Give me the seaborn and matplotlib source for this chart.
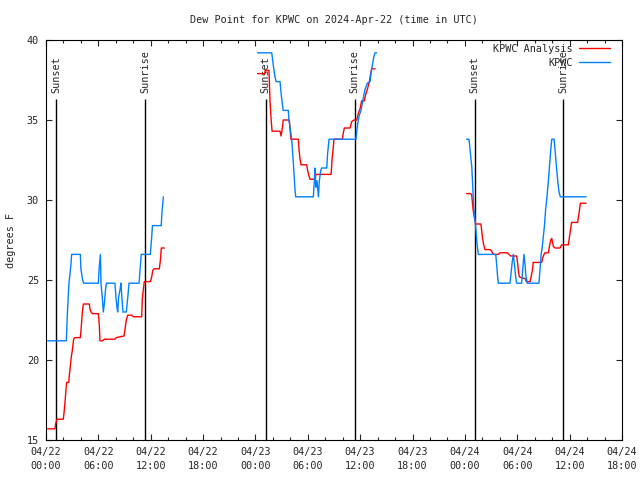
import matplotlib
matplotlib.use('Agg')
import matplotlib.pyplot as plt
from matplotlib.lines import Line2D
import seaborn as sns
import pandas as pd

# KPWC observed dew point (F), three separate data segments
kpwc_t = [
    # 04/22
    ["22 00:11", "22 02:20", "22 02:27", "22 02:34", "22 02:38", "22 02:52", "22 02:56",
     "22 03:56", "22 04:00", "22 04:12", "22 04:19", "22 06:00", "22 06:05", "22 06:14",
     "22 06:18", "22 06:27", "22 06:34", "22 06:41", "22 06:48", "22 06:55", "22 07:54",
     "22 08:01", "22 08:08", "22 08:13", "22 08:19", "22 08:29", "22 08:35", "22 08:42",
     "22 08:49", "22 09:12", "22 09:22", "22 09:31", "22 10:40", "22 10:47", "22 10:55",
     "22 11:57", "22 12:06", "22 12:12", "22 13:12", "22 13:18", "22 13:27"],
    # 04/23
    ["23 00:15", "23 01:52", "23 02:03", "23 02:14", "23 02:22", "23 02:49", "23 02:56",
     "23 03:05", "23 03:11", "23 03:46", "23 03:50", "23 04:00", "23 04:09", "23 04:16",
     "23 04:25", "23 04:32", "23 04:37", "23 06:38", "23 06:45", "23 06:49", "23 06:56",
     "23 07:03", "23 07:13", "23 07:19", "23 07:28", "23 07:35", "23 08:10", "23 08:16",
     "23 08:26", "23 08:35", "23 11:31", "23 11:38", "23 11:45", "23 11:54", "23 12:06",
     "23 12:22", "23 12:33", "23 12:49", "23 13:08", "23 13:14", "23 13:23", "23 13:33",
     "23 13:42", "23 13:53"],
    # 04/24
    ["24 00:12", "24 00:28", "24 00:37", "24 00:47", "24 00:53", "24 01:00", "24 01:09",
     "24 01:16", "24 01:23", "24 01:32", "24 03:32", "24 03:38", "24 03:45", "24 03:50",
     "24 05:10", "24 05:17", "24 05:26", "24 05:33", "24 05:40", "24 05:49", "24 05:56",
     "24 06:30", "24 06:37", "24 06:46", "24 06:53", "24 07:00", "24 07:09", "24 08:29",
     "24 08:36", "24 08:43", "24 08:52", "24 08:59", "24 09:06", "24 09:15", "24 09:24",
     "24 09:34", "24 09:43", "24 09:50", "24 09:57", "24 10:13", "24 10:20", "24 10:29",
     "24 10:38", "24 10:47", "24 10:56", "24 13:53"],
]
kpwc_v = [
    [21.2, 21.2, 22.9, 24.2, 24.8, 26.0, 26.6,
     26.6, 25.7, 25.0, 24.8, 24.8, 25.7, 26.6,
     24.8, 23.9, 23.0, 23.5, 24.3, 24.8, 24.8,
     23.9, 23.3, 23.0, 23.9, 24.4, 24.8, 23.9,
     23.0, 23.0, 23.9, 24.8, 24.8, 25.7, 26.6,
     26.6, 27.6, 28.4, 28.4, 29.3, 30.2],
    [39.2, 39.2, 38.4, 37.7, 37.4, 37.4, 36.7,
     36.0, 35.6, 35.6, 35.0, 34.4, 33.8, 32.9,
     31.7, 30.6, 30.2, 30.2, 31.2, 32.0, 30.8,
     31.2, 30.2, 31.2, 31.8, 32.0, 32.0, 32.9,
     33.8, 33.8, 33.8, 34.4, 34.9, 35.3, 35.6,
     36.4, 36.9, 37.3, 37.4, 37.9, 38.4, 38.9,
     39.2, 39.2],
    [33.8, 33.8, 33.0, 32.1, 31.0, 29.6, 28.8,
     28.1, 27.3, 26.6, 26.6, 26.0, 25.2, 24.8,
     24.8, 25.4, 26.2, 26.6, 26.0, 25.2, 24.8,
     24.8, 25.6, 26.6, 26.0, 25.2, 24.8, 24.8,
     25.6, 26.5, 27.1, 27.7, 28.3, 29.4, 30.2,
     31.2, 32.3, 33.1, 33.8, 33.8, 33.1, 32.1,
     31.2, 30.5, 30.2, 30.2],
]

# KPWC Analysis dew point (F)
anl_t = [
    ["22 00:11", "22 01:02", "22 01:06", "22 01:16", "22 01:59", "22 02:04", "22 02:11",
     "22 02:17", "22 02:22", "22 02:36", "22 02:40", "22 02:47", "22 02:54", "22 03:01",
     "22 03:10", "22 03:19", "22 03:56", "22 04:01", "22 04:10", "22 04:17", "22 04:58",
     "22 05:02", "22 05:10", "22 05:19", "22 06:00", "22 06:07", "22 06:11", "22 06:27",
     "22 06:42", "22 07:54", "22 08:03", "22 08:56", "22 09:03", "22 09:12", "22 09:22",
     "22 09:49", "22 10:03", "22 10:58", "22 11:02", "22 11:09", "22 11:16", "22 11:58",
     "22 12:07", "22 12:14", "22 12:23", "22 12:59", "22 13:06", "22 13:13", "22 13:34"],
    ["23 00:15", "23 01:04", "23 01:07", "23 01:33", "23 01:40", "23 01:48", "23 01:54",
     "23 02:49", "23 02:56", "23 03:05", "23 03:11", "23 03:53", "23 03:59", "23 04:04",
     "23 04:55", "23 05:00", "23 05:06", "23 05:13", "23 05:52", "23 06:00", "23 06:08",
     "23 06:15", "23 06:49", "23 06:56", "23 08:40", "23 08:47", "23 08:53", "23 09:00",
     "23 09:58", "23 10:04", "23 10:11", "23 10:50", "23 11:02", "23 11:18", "23 11:36",
     "23 11:47", "23 11:59", "23 12:10", "23 12:29", "23 12:38", "23 12:52", "23 13:03",
     "23 13:12", "23 13:19", "23 13:42"],
    ["24 00:12", "24 00:40", "24 00:47", "24 00:56", "24 01:05", "24 01:14", "24 01:50",
     "24 02:00", "24 02:09", "24 02:18", "24 02:53", "24 03:04", "24 03:15", "24 03:50",
     "24 04:01", "24 04:13", "24 04:52", "24 05:03", "24 05:15", "24 05:56", "24 06:03",
     "24 06:07", "24 06:14", "24 06:42", "24 06:53", "24 07:02", "24 07:28", "24 07:35",
     "24 07:44", "24 07:50", "24 08:48", "24 08:55", "24 09:04", "24 09:11", "24 09:34",
     "24 09:41", "24 09:50", "24 09:57", "24 10:08", "24 10:20", "24 10:54", "24 11:05",
     "24 11:51", "24 12:02", "24 12:10", "24 12:14", "24 12:55", "24 13:05", "24 13:14",
     "24 13:53"],
]
anl_v = [
    [15.7, 15.7, 16.0, 16.3, 16.3, 16.7, 17.4,
     18.1, 18.6, 18.6, 19.0, 19.6, 20.2, 20.6,
     21.3, 21.4, 21.4, 21.9, 23.0, 23.5, 23.5,
     23.2, 23.0, 22.9, 22.9, 22.1, 21.2, 21.2,
     21.3, 21.3, 21.4, 21.5, 21.9, 22.5, 22.8,
     22.8, 22.7, 22.7, 23.8, 24.4, 24.9, 24.9,
     25.2, 25.6, 25.7, 25.7, 26.2, 27.0, 27.0],
    [37.9, 37.9, 38.1, 38.1, 36.2, 35.0, 34.3,
     34.3, 34.0, 34.5, 35.0, 35.0, 34.3, 33.8,
     33.8, 33.1, 32.6, 32.2, 32.2, 31.8, 31.5,
     31.3, 31.3, 31.6, 31.6, 32.6, 33.1, 33.8,
     33.8, 34.2, 34.5, 34.5, 34.9, 35.0, 35.0,
     35.4, 35.7, 36.2, 36.2, 36.6, 37.0, 37.4,
     37.9, 38.2, 38.2],
    [30.4, 30.4, 30.3, 29.4, 28.9, 28.5, 28.5,
     27.7, 27.2, 26.9, 26.9, 26.8, 26.6, 26.6,
     26.7, 26.7, 26.7, 26.6, 26.5, 26.5, 26.0,
     25.6, 25.2, 25.1, 25.1, 24.9, 24.9, 25.2,
     25.6, 26.1, 26.1, 26.4, 26.6, 26.7, 26.7,
     27.1, 27.5, 27.6, 27.1, 27.0, 27.0, 27.2,
     27.2, 27.9, 28.4, 28.6, 28.6, 29.2, 29.8,
     29.8],
]

sunset_t = ["22 01:10", "23 01:11", "24 01:07"]
sunrise_t = ["22 11:23", "23 11:21", "24 11:14"]

series_names = ["KPWC Analysis", "KPWC"]
series_colors = ["#ff0000", "#0080ff"]


def to_time(s):
    return pd.to_datetime(["2024-04-" + x for x in s], format="%Y-%m-%d %H:%M")


rows = []
for name, tt, vv in [("KPWC Analysis", anl_t, anl_v), ("KPWC", kpwc_t, kpwc_v)]:
    for i, (t, v) in enumerate(zip(tt, vv)):
        rows.append(pd.DataFrame({"time": to_time(t), "dewpt": v,
                                  "series": name, "seg": i}))
df = pd.concat(rows, ignore_index=True)

sns.set_style("ticks")
plt.rcParams["font.family"] = ["DejaVu Sans Mono"]
plt.rcParams["font.size"] = 7

fig, ax = plt.subplots(figsize=(6.4, 4.8), dpi=100)
fig.subplots_adjust(left=46/640, right=622/640, bottom=40/480, top=440/480)

# sunrise / sunset markers
for lab, times in [("Sunset", sunset_t), ("Sunrise", sunrise_t)]:
    tt = to_time(times)
    ax.vlines(tt, 15, 36.3, color="black", lw=1.0, zorder=1)
    for t in tt:
        ax.text(t, 36.7, lab, rotation=90, ha="center", va="bottom",
                fontsize=7.3, zorder=1)

sns.lineplot(data=df, x="time", y="dewpt", hue="series", units="seg",
             estimator=None, sort=False, palette=dict(zip(series_names, series_colors)),
             hue_order=series_names, lw=1.0, legend=False, ax=ax, zorder=3)

handles = [Line2D([], [], color=c, lw=1.0) for c in series_colors]
ax.legend(handles, series_names, loc="upper right", bbox_to_anchor=(0.979, 0.99),
          frameon=False, markerfirst=False, borderaxespad=0, borderpad=0,
          handlelength=3.0, handletextpad=0.7, labelspacing=0.35, fontsize=7.3)

xticks = pd.date_range("2024-04-22 00:00", "2024-04-24 18:00", freq="6h")
xminor = pd.date_range("2024-04-22 00:00", "2024-04-24 18:00", freq="2h")
ax.set_xlim(xticks[0], xticks[-1])
ax.set_xticks(xticks)
ax.set_xticklabels([t.strftime("%m/%d\n%H:%M") for t in xticks], linespacing=1.5,
                   fontsize=7.3)
ax.set_xticks(xminor, minor=True)
ax.set_ylim(15, 40)
ax.set_yticks([15, 20, 25, 30, 35, 40])
ax.tick_params(axis="y", labelsize=7.3)

ax.tick_params(which="both", direction="in", top=True, right=True, width=0.8, pad=5)
ax.tick_params(which="major", length=4)
ax.tick_params(which="minor", length=2.5)
for sp in ax.spines.values():
    sp.set_linewidth(0.8)
    sp.set_color("black")

ax.set_xlabel("")
ax.set_ylabel("degrees F", fontsize=7.3, labelpad=7.5)
ax.set_title("Dew Point for KPWC on 2024-Apr-22 (time in UTC)", fontsize=7.3, pad=12)

fig.savefig("out.png", dpi=100)
